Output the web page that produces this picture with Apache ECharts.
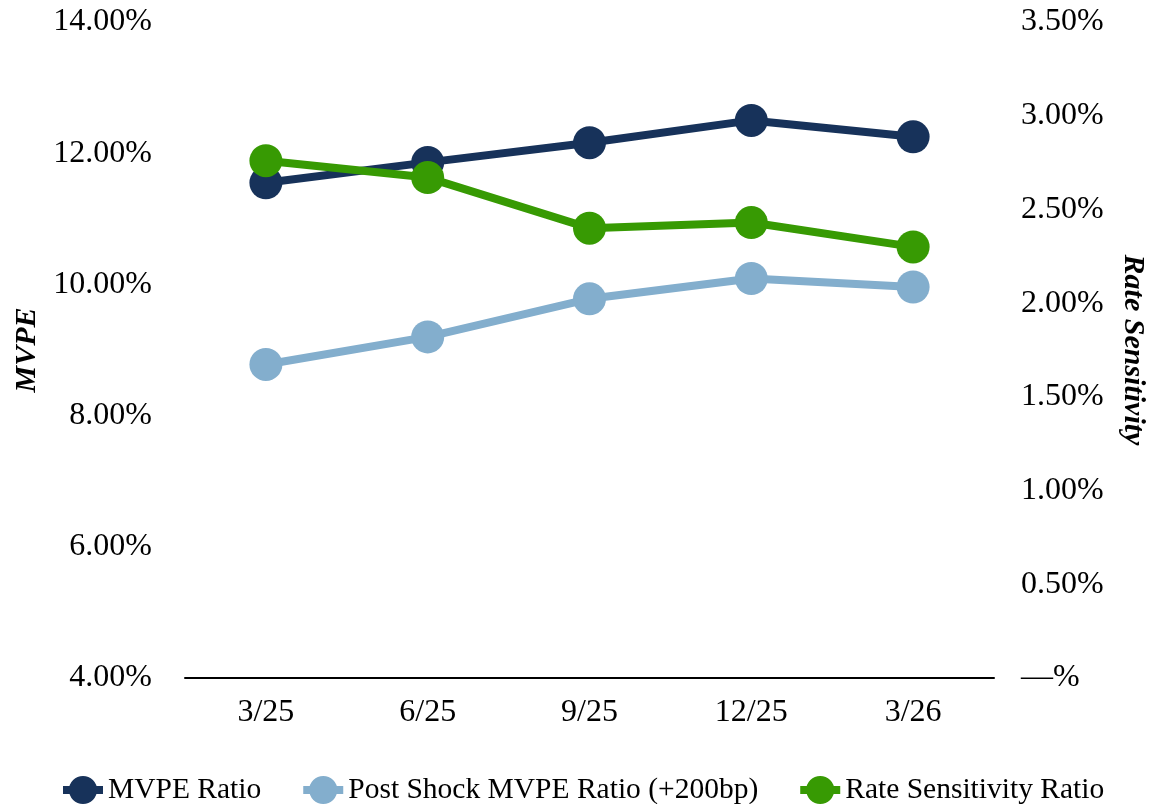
<!DOCTYPE html>
<html>
<head>
<meta charset="utf-8">
<script src="https://cdn.jsdelivr.net/npm/echarts@6/dist/echarts.min.js"></script>
<style>
html,body{margin:0;padding:0;background:#fff;overflow:hidden;}
#chart{width:1150px;height:804px;}
</style>
</head>
<body>
<div id="chart"></div>
<script>
const categories = ['3/25', '6/25', '9/25', '12/25', '3/26'];
const mvpeRatio = [11.55, 11.86, 12.16, 12.50, 12.25];
const postShockMvpe = [8.78, 9.20, 9.78, 10.09, 9.96];
const rateSensitivity = [2.76, 2.67, 2.40, 2.43, 2.30];
const seriesNames = ['MVPE Ratio', 'Post Shock MVPE Ratio (+200bp)', 'Rate Sensitivity Ratio'];

const FONT = '"Liberation Serif", "Times New Roman", serif';
const LEGEND_ICON = 'path://M0,10L40,10L40,18L0,18Z M6,14A14,14 0 1,1 34,14A14,14 0 1,1 6,14Z';
const chart = echarts.init(document.getElementById('chart'));

function lineSeries(name, data, color, yIdx) {
  return {
    name: name, type: 'line', yAxisIndex: yIdx, data: data,
    symbol: 'circle', symbolSize: 33,
    lineStyle: { width: 8, color: color }, itemStyle: { color: color },
    emphasis: { disabled: true }, animation: false
  };
}

chart.setOption({
  backgroundColor: '#ffffff',
  animation: false,
  textStyle: { fontFamily: FONT, color: '#000' },
  grid: { left: 185, right: 156, top: 22, bottom: 126, containLabel: false, outerBoundsMode: 'none' },
  legend: {
    left: 58, top: 770, itemWidth: 40, itemHeight: 28, itemGap: 42,
    textStyle: { fontFamily: FONT, fontSize: 29.5, color: '#000' },
    data: seriesNames.map(n => ({ name: n, icon: LEGEND_ICON }))
  },
  xAxis: {
    type: 'category', data: categories, boundaryGap: true,
    axisLine: { lineStyle: { color: '#000', width: 2 } },
    axisTick: { show: false },
    axisLabel: { fontFamily: FONT, fontSize: 32, color: '#000', margin: 19 },
    splitLine: { show: false }
  },
  yAxis: [
    {
      type: 'value', min: 4, max: 14, interval: 2,
      name: 'MVPE', nameLocation: 'middle', nameGap: 143,
      nameTextStyle: { fontFamily: FONT, fontSize: 30, fontWeight: 'bold', fontStyle: 'italic', color: '#000' },
      axisLine: { show: false }, axisTick: { show: false }, splitLine: { show: false },
      axisLabel: { fontFamily: FONT, fontSize: 32, color: '#000', margin: 33, formatter: v => v.toFixed(2) + '%' }
    },
    {
      type: 'value', min: 0, max: 3.5, interval: 0.5,
      name: 'Rate Sensitivity', nameLocation: 'middle', nameGap: 124, nameRotate: -90,
      nameTextStyle: { fontFamily: FONT, fontSize: 30, fontWeight: 'bold', fontStyle: 'italic', color: '#000' },
      axisLine: { show: false }, axisTick: { show: false }, splitLine: { show: false },
      axisLabel: { fontFamily: FONT, fontSize: 32, color: '#000', margin: 27,
        formatter: v => v === 0 ? '\u2014%' : v.toFixed(2) + '%' }
    }
  ],
  series: [
    lineSeries(seriesNames[0], mvpeRatio, '#17325A', 0),
    lineSeries(seriesNames[1], postShockMvpe, '#83AECD', 0),
    lineSeries(seriesNames[2], rateSensitivity, '#379A03', 1)
  ]
});
</script>
</body>
</html>
